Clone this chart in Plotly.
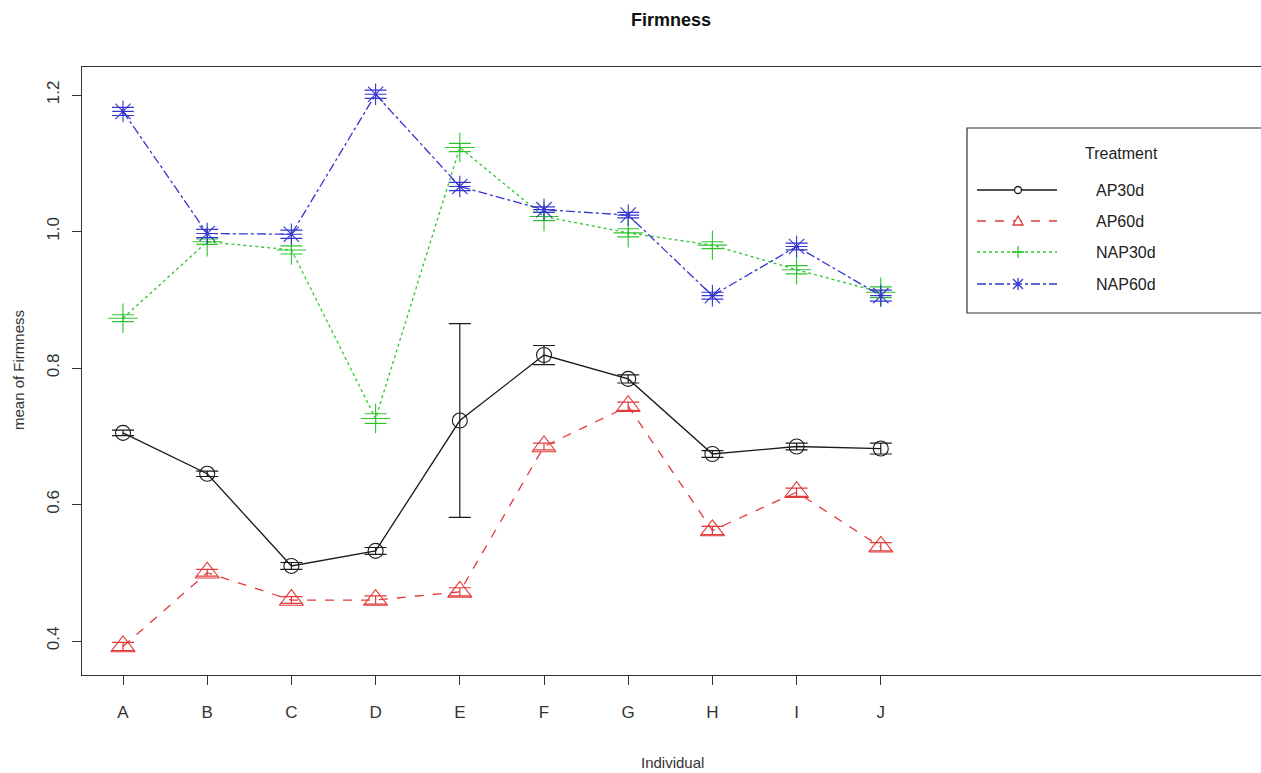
import plotly.graph_objects as go

# ---- data ----
individuals = ["A", "B", "C", "D", "E", "F", "G", "H", "I", "J"]
treatments = ["AP30d", "AP60d", "NAP30d", "NAP60d"]

ap30d = [0.705, 0.645, 0.510, 0.532, 0.723, 0.819, 0.784, 0.674, 0.685, 0.682]
ap30d_se = [0.004, 0.004, 0.005, 0.005, 0.142, 0.014, 0.006, 0.005, 0.005, 0.008]

ap60d = [0.392, 0.500, 0.460, 0.460, 0.472, 0.685, 0.744, 0.562, 0.618, 0.538]
ap60d_se = [0.006, 0.005, 0.005, 0.006, 0.006, 0.005, 0.006, 0.006, 0.006, 0.006]

nap30d = [0.873, 0.985, 0.973, 0.726, 1.123, 1.022, 0.998, 0.980, 0.944, 0.911]
nap30d_se = [0.005, 0.004, 0.006, 0.007, 0.006, 0.006, 0.006, 0.005, 0.006, 0.008]

nap60d = [1.176, 0.997, 0.996, 1.201, 1.066, 1.032, 1.024, 0.906, 0.978, 0.906]
nap60d_se = [0.006, 0.006, 0.006, 0.006, 0.006, 0.004, 0.004, 0.005, 0.005, 0.008]

y_ticks = [0.4, 0.6, 0.8, 1.0, 1.2]
y_tick_labels = ["0.4", "0.6", "0.8", "1.0", "1.2"]

# ---- styles ----
FONT = "Liberation Sans, Arial, sans-serif"
series = [
    (treatments[0], ap30d, ap30d_se, "#1a1a1a", "solid", "circle-open", 15),
    (treatments[1], ap60d, ap60d_se, "#e23a3a", "dash", "triangle-up-open", 21),
    (treatments[2], nap30d, nap30d_se, "#2fc42f", "dot", "cross-thin-open", 21),
    (treatments[3], nap60d, nap60d_se, "#3535cf", "dashdot", "asterisk-open", 18),
]

x = list(range(1, len(individuals) + 1))
fig = go.Figure()
for name, vals, se, color, dash, sym, size in series:
    fig.add_trace(go.Scatter(
        x=x, y=vals, name=name, mode="lines+markers",
        line=dict(color=color, width=1.3, dash=dash),
        marker=dict(symbol=sym, size=size, color=color,
                    line=dict(color=color, width=1.1)),
        error_y=dict(type="data", array=se, visible=True, color=color,
                     thickness=1.2, width=11),
        showlegend=False,
    ))

# plot area geometry (pixels)
L, T, R, B = 82, 67, 1261, 675
W, H = R - L, B - T


def px(xp):
    return (xp - L) / W


def py(yp):
    return (B - yp) / H


shapes = []
annotations = []
# legend box
shapes.append(dict(type="rect", xref="paper", yref="paper",
                   x0=px(967), x1=px(1275), y0=py(128), y1=py(313),
                   line=dict(color="#333333", width=1.2), fillcolor="white", layer="above"))
annotations.append(dict(text="Treatment", xref="paper", yref="paper",
                        x=px(1121), y=py(153), showarrow=False,
                        font=dict(family=FONT, size=16, color="#222"),
                        xanchor="center", yanchor="middle"))
leg_y = [190, 221, 252, 284]
for (name, vals, se, color, dash, sym, size), ly in zip(series, leg_y):
    shapes.append(dict(type="line", xref="paper", yref="paper",
                       x0=px(977), x1=px(1057), y0=py(ly), y1=py(ly),
                       line=dict(color=color, width=1.5, dash=dash), layer="above"))
    cx, cy = 1018, ly
    if sym.startswith("circle"):
        shapes.append(dict(type="circle", xref="paper", yref="paper",
                           x0=px(cx - 3.5), x1=px(cx + 3.5), y0=py(cy + 3.5), y1=py(cy - 3.5),
                           line=dict(color=color, width=1.3), fillcolor="white", layer="above"))
    elif sym.startswith("triangle"):
        path = f"M {px(cx-5)} {py(cy+4)} L {px(cx+5)} {py(cy+4)} L {px(cx)} {py(cy-5)} Z"
        shapes.append(dict(type="path", xref="paper", yref="paper", path=path,
                           line=dict(color=color, width=1.3), fillcolor="white", layer="above"))
    elif sym.startswith("cross"):
        path = (f"M {px(cx-6)} {py(cy)} L {px(cx+6)} {py(cy)} "
                f"M {px(cx)} {py(cy-6)} L {px(cx)} {py(cy+6)}")
        shapes.append(dict(type="path", xref="paper", yref="paper", path=path,
                           line=dict(color=color, width=1.3), layer="above"))
    else:
        path = (f"M {px(cx-5)} {py(cy-5)} L {px(cx+5)} {py(cy+5)} "
                f"M {px(cx-5)} {py(cy+5)} L {px(cx+5)} {py(cy-5)} "
                f"M {px(cx)} {py(cy-6)} L {px(cx)} {py(cy+6)}")
        shapes.append(dict(type="path", xref="paper", yref="paper", path=path,
                           line=dict(color=color, width=1.3), layer="above"))
    annotations.append(dict(text=name, xref="paper", yref="paper",
                            x=px(1094), y=py(ly), showarrow=False,
                            font=dict(family=FONT, size=16, color="#222"),
                            xanchor="left", yanchor="middle"))

# axis titles and main title
annotations.append(dict(text="<b>Firmness</b>", xref="paper", yref="paper",
                        x=px(671), y=py(20), showarrow=False,
                        font=dict(family=FONT, size=18, color="#111"),
                        xanchor="center", yanchor="middle"))
annotations.append(dict(text="Individual", xref="paper", yref="paper",
                        x=px(672), y=py(762), showarrow=False,
                        font=dict(family=FONT, size=15, color="#333"),
                        xanchor="center", yanchor="middle"))
annotations.append(dict(text="mean of Firmness", xref="paper", yref="paper",
                        x=px(18), y=py(370), showarrow=False, textangle=-90,
                        font=dict(family=FONT, size=15, color="#333"),
                        xanchor="center", yanchor="middle"))

# axis ranges from pixel calibration: A at x=123, spacing 84.2; 0.4 at y=641, 0.2 per 136.5px
xr = [1 - (123 - L) / 84.2, 1 + (R - 123) / 84.2]
yr = [0.4 - (B - 641) / 682.5, 0.4 + (641 - T) / 682.5]

fig.update_layout(
    width=1261, height=773,
    margin=dict(l=L, r=1261 - R, t=T, b=773 - B),
    paper_bgcolor="white", plot_bgcolor="white",
    shapes=shapes, annotations=annotations,
    showlegend=False,
    xaxis=dict(range=xr, tickvals=x, ticktext=individuals, showgrid=False,
               zeroline=False, showline=True, mirror=True, linecolor="#333", linewidth=1.3,
               ticks="outside", ticklen=9, tickcolor="#333", ticklabelstandoff=12,
               tickfont=dict(family=FONT, size=17, color="#333")),
    yaxis=dict(range=yr, tickvals=y_ticks, ticktext=y_tick_labels,
               showgrid=False, zeroline=False, showline=True, mirror=False,
               linecolor="#333", linewidth=1.3, ticks="outside", ticklen=9, tickcolor="#333",
               tickangle=-90, ticklabelstandoff=6,
               tickfont=dict(family=FONT, size=17, color="#333")),
)

fig.write_html("out.html")
